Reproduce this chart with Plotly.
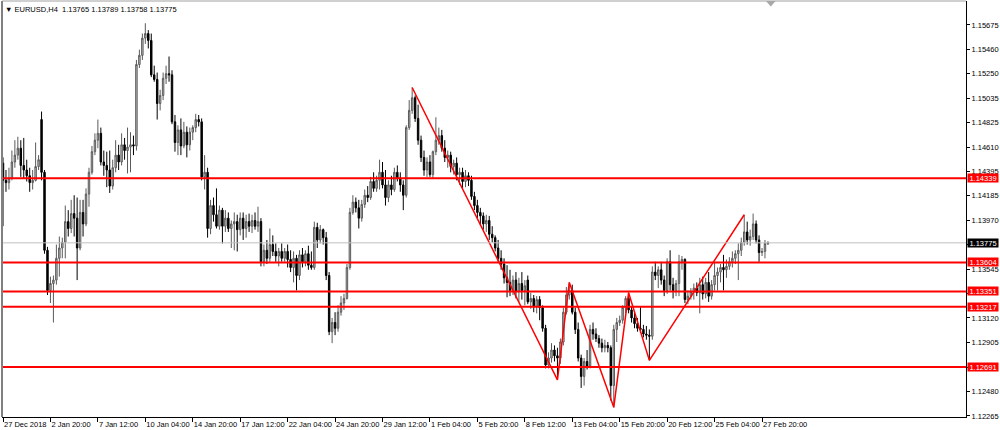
import plotly.graph_objects as go

# ---------------- data (EURUSD, H4) ----------------
x_tick_labels = ["27 Dec 2018", "2 Jan 20:00", "7 Jan 12:00", "10 Jan 04:00", "14 Jan 20:00",
                 "17 Jan 12:00", "22 Jan 04:00", "24 Jan 20:00", "29 Jan 12:00", "1 Feb 04:00",
                 "5 Feb 20:00", "8 Feb 12:00", "13 Feb 04:00", "15 Feb 20:00", "20 Feb 12:00",
                 "25 Feb 04:00", "27 Feb 20:00"]
x_tick_index = [0, 16, 32, 48, 64, 80, 96, 112, 128, 144, 160, 176, 192, 208, 224, 240, 256]

y_ticks = [1.12265, 1.12480, 1.12690, 1.12905, 1.13120, 1.13335, 1.13545, 1.13760, 1.13970,
           1.14185, 1.14395, 1.14610, 1.14825, 1.15035, 1.15250, 1.15460, 1.15675]

open_ = [
    1.1447, 1.1432, 1.1430, 1.1434, 1.1448, 1.1454, 1.1460, 1.1445, 1.1441, 1.1436,
    1.1430, 1.1432, 1.1444, 1.1485, 1.1439, 1.1371, 1.1336, 1.1342, 1.1345, 1.1364,
    1.1373, 1.1378, 1.1396, 1.1390, 1.1403, 1.1399, 1.1373, 1.1404, 1.1394, 1.1420,
    1.1439, 1.1457, 1.1467, 1.1473, 1.1448, 1.1445, 1.1441, 1.1427, 1.1443, 1.1454,
    1.1448, 1.1463, 1.1458, 1.1461, 1.1463, 1.1462, 1.1533, 1.1541, 1.1556, 1.1560,
    1.1554, 1.1524, 1.1520, 1.1499, 1.1506, 1.1521, 1.1525, 1.1524, 1.1483, 1.1465,
    1.1476, 1.1462, 1.1474, 1.1463, 1.1474, 1.1478, 1.1485, 1.1483, 1.1435, 1.1439,
    1.1390, 1.1410, 1.1402, 1.1392, 1.1406, 1.1392, 1.1399, 1.1390, 1.1394, 1.1396,
    1.1389, 1.1399, 1.1390, 1.1396, 1.1392, 1.1397, 1.1392, 1.1396, 1.1361, 1.1371,
    1.1364, 1.1376, 1.1370, 1.1366, 1.1370, 1.1364, 1.1370, 1.1363, 1.1356, 1.1364,
    1.1349, 1.1367, 1.1361, 1.1368, 1.1358, 1.1356, 1.1391, 1.1380, 1.1389, 1.1382,
    1.1349, 1.1300, 1.1308, 1.1303, 1.1317, 1.1325, 1.1329, 1.1356, 1.1404, 1.1413,
    1.1408, 1.1399, 1.1411, 1.1419, 1.1417, 1.1431, 1.1425, 1.1432, 1.1439, 1.1428,
    1.1417, 1.1428, 1.1424, 1.1439, 1.1434, 1.1428, 1.1419, 1.1478, 1.1493, 1.1504,
    1.1486, 1.1467, 1.1452, 1.1441, 1.1448, 1.1437, 1.1457, 1.1467, 1.1471, 1.1460,
    1.1452, 1.1454, 1.1444, 1.1447, 1.1437, 1.1439, 1.1431, 1.1436, 1.1432, 1.1418,
    1.1410, 1.1404, 1.1401, 1.1394, 1.1397, 1.1385, 1.1382, 1.1373, 1.1364, 1.1359,
    1.1347, 1.1343, 1.1336, 1.1345, 1.1335, 1.1342, 1.1336, 1.1345, 1.1326, 1.1329,
    1.1322, 1.1328, 1.1321, 1.1303, 1.1271, 1.1277, 1.1284, 1.1279, 1.1277, 1.1291,
    1.1317, 1.1332, 1.1336, 1.1317, 1.1302, 1.1277, 1.1261, 1.1274, 1.1270, 1.1302,
    1.1298, 1.1294, 1.1290, 1.1286, 1.1288, 1.1286, 1.1253, 1.1302, 1.1308, 1.1310,
    1.1321, 1.1329, 1.1319, 1.1312, 1.1307, 1.1303, 1.1302, 1.1298, 1.1297, 1.1296,
    1.1352, 1.1349, 1.1354, 1.1345, 1.1336, 1.1361, 1.1341, 1.1336, 1.1342, 1.1361,
    1.1363, 1.1328, 1.1331, 1.1335, 1.1338, 1.1334, 1.1341, 1.1333, 1.1343, 1.1331,
    1.1341, 1.1349, 1.1352, 1.1356, 1.1354, 1.1357, 1.1361, 1.1364, 1.1368, 1.1371,
    1.1378, 1.1387, 1.1380, 1.1383, 1.1394, 1.1380, 1.1369, 1.1370, 1.13765]

high = [
    1.1452, 1.1441, 1.1443, 1.1458, 1.1467, 1.1470, 1.1467, 1.1469, 1.1450, 1.1443,
    1.1441, 1.1465, 1.1454, 1.1492, 1.1441, 1.1374, 1.1348, 1.1349, 1.1376, 1.1383,
    1.1382, 1.1410, 1.1406, 1.1415, 1.1419, 1.1417, 1.1415, 1.1415, 1.1425, 1.1443,
    1.1462, 1.1473, 1.1485, 1.1478, 1.1458, 1.1457, 1.1458, 1.1450, 1.1467, 1.1463,
    1.1473, 1.1469, 1.1478, 1.1474, 1.1471, 1.1537, 1.1546, 1.1560, 1.1569, 1.1563,
    1.1560, 1.1532, 1.1526, 1.1511, 1.1526, 1.1532, 1.1540, 1.1528, 1.1489, 1.1480,
    1.1486, 1.1483, 1.1479, 1.1478, 1.1480, 1.1490, 1.1489, 1.1486, 1.1454, 1.1443,
    1.1415, 1.1417, 1.1425, 1.1410, 1.1408, 1.1406, 1.1404, 1.1397, 1.1404, 1.1402,
    1.1404, 1.1404, 1.1402, 1.1403, 1.1402, 1.1404, 1.1409, 1.1399, 1.1376, 1.1380,
    1.1390, 1.1384, 1.1377, 1.1373, 1.1377, 1.1373, 1.1376, 1.1371, 1.1370, 1.1367,
    1.1371, 1.1373, 1.1371, 1.1375, 1.1370, 1.1396, 1.1395, 1.1393, 1.1390, 1.1387,
    1.1352, 1.1312, 1.1317, 1.1323, 1.1331, 1.1333, 1.1359, 1.1408, 1.1419, 1.1417,
    1.1415, 1.1415, 1.1424, 1.1427, 1.1435, 1.1439, 1.1436, 1.1450, 1.1448, 1.1441,
    1.1432, 1.1436, 1.1443, 1.1445, 1.1439, 1.1432, 1.1480, 1.1502, 1.1513, 1.1506,
    1.1498, 1.1471, 1.1458, 1.1452, 1.1454, 1.1458, 1.1487, 1.1478, 1.1476, 1.1467,
    1.1458, 1.1457, 1.1450, 1.1452, 1.1443, 1.1443, 1.1441, 1.1439, 1.1436, 1.1422,
    1.1415, 1.1408, 1.1404, 1.1402, 1.1401, 1.1392, 1.1384, 1.1380, 1.1371, 1.1364,
    1.1358, 1.1354, 1.1349, 1.1352, 1.1347, 1.1352, 1.1345, 1.1349, 1.1334, 1.1332,
    1.1331, 1.1331, 1.1323, 1.1306, 1.1282, 1.1290, 1.1288, 1.1286, 1.1294, 1.1321,
    1.1339, 1.1343, 1.1341, 1.1321, 1.1308, 1.1280, 1.1277, 1.1284, 1.1306, 1.1308,
    1.1303, 1.1297, 1.1294, 1.1293, 1.1291, 1.1288, 1.1306, 1.1312, 1.1314, 1.1323,
    1.1331, 1.1334, 1.1322, 1.1317, 1.1312, 1.1322, 1.1306, 1.1305, 1.1302, 1.1357,
    1.1361, 1.1357, 1.1361, 1.1349, 1.1364, 1.1371, 1.1347, 1.1345, 1.1367, 1.1366,
    1.1364, 1.1336, 1.1338, 1.1342, 1.1343, 1.1347, 1.1348, 1.1347, 1.1352, 1.1345,
    1.1361, 1.1356, 1.1359, 1.1367, 1.1363, 1.1365, 1.1370, 1.1371, 1.1377, 1.1382,
    1.1402, 1.1396, 1.1389, 1.1403, 1.1397, 1.1384, 1.1373, 1.1380, 1.13789]

low = [
    1.1392, 1.1422, 1.1424, 1.1432, 1.1443, 1.1450, 1.1435, 1.1434, 1.1431, 1.1422,
    1.1424, 1.1431, 1.1441, 1.1432, 1.1368, 1.1332, 1.1325, 1.1308, 1.1341, 1.1348,
    1.1364, 1.1364, 1.1383, 1.1386, 1.1383, 1.1345, 1.1371, 1.1383, 1.1392, 1.1409,
    1.1437, 1.1454, 1.1460, 1.1445, 1.1436, 1.1426, 1.1421, 1.1424, 1.1439, 1.1441,
    1.1445, 1.1450, 1.1438, 1.1439, 1.1454, 1.1458, 1.1530, 1.1537, 1.1551, 1.1547,
    1.1522, 1.1518, 1.1485, 1.1493, 1.1502, 1.1516, 1.1518, 1.1481, 1.1457, 1.1454,
    1.1454, 1.1460, 1.1452, 1.1458, 1.1467, 1.1474, 1.1479, 1.1432, 1.1424, 1.1382,
    1.1385, 1.1396, 1.1390, 1.1389, 1.1377, 1.1387, 1.1387, 1.1373, 1.1371, 1.1370,
    1.1384, 1.1380, 1.1382, 1.1387, 1.1386, 1.1389, 1.1387, 1.1357, 1.1357, 1.1359,
    1.1361, 1.1366, 1.1361, 1.1357, 1.1361, 1.1361, 1.1356, 1.1352, 1.1343, 1.1336,
    1.1345, 1.1356, 1.1357, 1.1354, 1.1354, 1.1354, 1.1373, 1.1377, 1.1376, 1.1345,
    1.1297, 1.1290, 1.1297, 1.1300, 1.1314, 1.1319, 1.1328, 1.1354, 1.1402, 1.1404,
    1.1390, 1.1396, 1.1408, 1.1413, 1.1415, 1.1422, 1.1422, 1.1424, 1.1425, 1.1410,
    1.1413, 1.1419, 1.1422, 1.1431, 1.1422, 1.1406, 1.1417, 1.1476, 1.1490, 1.1483,
    1.1463, 1.1448, 1.1436, 1.1435, 1.1435, 1.1434, 1.1454, 1.1463, 1.1457, 1.1448,
    1.1443, 1.1439, 1.1437, 1.1432, 1.1428, 1.1425, 1.1426, 1.1427, 1.1415, 1.1406,
    1.1399, 1.1393, 1.1389, 1.1387, 1.1380, 1.1378, 1.1370, 1.1361, 1.1354, 1.1342,
    1.1330, 1.1331, 1.1332, 1.1329, 1.1326, 1.1328, 1.1323, 1.1324, 1.1320, 1.1317,
    1.1316, 1.1310, 1.1300, 1.1268, 1.1268, 1.1273, 1.1274, 1.1258, 1.1272, 1.1288,
    1.1315, 1.1328, 1.1315, 1.1298, 1.1274, 1.1251, 1.1253, 1.1267, 1.1268, 1.1293,
    1.1291, 1.1286, 1.1282, 1.1282, 1.1282, 1.1240, 1.1234, 1.1291, 1.1305, 1.1307,
    1.1316, 1.1316, 1.1308, 1.1303, 1.1300, 1.1299, 1.1295, 1.1293, 1.1275, 1.1293,
    1.1345, 1.1338, 1.1341, 1.1331, 1.1333, 1.1336, 1.1329, 1.1331, 1.1331, 1.1354,
    1.1325, 1.1324, 1.1328, 1.1328, 1.1331, 1.1316, 1.1328, 1.1329, 1.1326, 1.1328,
    1.1336, 1.1336, 1.1343, 1.1336, 1.1347, 1.1354, 1.1356, 1.1359, 1.1345, 1.1366,
    1.1375, 1.1376, 1.1375, 1.1380, 1.1377, 1.1361, 1.1366, 1.1364, 1.13758]

close = [
    1.1432, 1.1430, 1.1434, 1.1448, 1.1454, 1.1460, 1.1445, 1.1441, 1.1436, 1.1430,
    1.1432, 1.1444, 1.1450, 1.1439, 1.1371, 1.1336, 1.1342, 1.1345, 1.1364, 1.1373,
    1.1378, 1.1396, 1.1390, 1.1403, 1.1399, 1.1373, 1.1404, 1.1394, 1.1420, 1.1439,
    1.1457, 1.1467, 1.1473, 1.1448, 1.1445, 1.1441, 1.1427, 1.1443, 1.1454, 1.1448,
    1.1463, 1.1458, 1.1461, 1.1463, 1.1462, 1.1533, 1.1541, 1.1556, 1.1560, 1.1554,
    1.1524, 1.1520, 1.1499, 1.1506, 1.1521, 1.1525, 1.1524, 1.1483, 1.1465, 1.1476,
    1.1462, 1.1474, 1.1463, 1.1474, 1.1478, 1.1485, 1.1483, 1.1435, 1.1439, 1.1390,
    1.1410, 1.1402, 1.1392, 1.1406, 1.1392, 1.1399, 1.1390, 1.1394, 1.1396, 1.1389,
    1.1399, 1.1390, 1.1396, 1.1392, 1.1397, 1.1392, 1.1396, 1.1361, 1.1371, 1.1364,
    1.1376, 1.1370, 1.1366, 1.1370, 1.1364, 1.1370, 1.1363, 1.1356, 1.1364, 1.1349,
    1.1367, 1.1361, 1.1368, 1.1358, 1.1356, 1.1391, 1.1380, 1.1389, 1.1382, 1.1349,
    1.1300, 1.1308, 1.1303, 1.1317, 1.1325, 1.1329, 1.1356, 1.1404, 1.1413, 1.1408,
    1.1399, 1.1411, 1.1419, 1.1417, 1.1431, 1.1425, 1.1432, 1.1439, 1.1428, 1.1417,
    1.1428, 1.1424, 1.1439, 1.1434, 1.1428, 1.1419, 1.1478, 1.1493, 1.1504, 1.1486,
    1.1467, 1.1452, 1.1441, 1.1448, 1.1437, 1.1457, 1.1467, 1.1471, 1.1460, 1.1452,
    1.1454, 1.1444, 1.1447, 1.1437, 1.1439, 1.1431, 1.1436, 1.1432, 1.1418, 1.1410,
    1.1404, 1.1401, 1.1394, 1.1397, 1.1385, 1.1382, 1.1373, 1.1364, 1.1359, 1.1347,
    1.1343, 1.1336, 1.1345, 1.1335, 1.1342, 1.1336, 1.1340, 1.1326, 1.1329, 1.1322,
    1.1328, 1.1321, 1.1303, 1.1271, 1.1277, 1.1284, 1.1279, 1.1277, 1.1291, 1.1317,
    1.1332, 1.1336, 1.1317, 1.1302, 1.1277, 1.1261, 1.1274, 1.1270, 1.1302, 1.1298,
    1.1294, 1.1290, 1.1286, 1.1288, 1.1286, 1.1253, 1.1302, 1.1308, 1.1310, 1.1321,
    1.1329, 1.1319, 1.1312, 1.1307, 1.1303, 1.1302, 1.1298, 1.1297, 1.1296, 1.1352,
    1.1349, 1.1354, 1.1345, 1.1336, 1.1361, 1.1341, 1.1336, 1.1342, 1.1361, 1.1363,
    1.1328, 1.1331, 1.1335, 1.1338, 1.1334, 1.1341, 1.1333, 1.1343, 1.1331, 1.1341,
    1.1349, 1.1352, 1.1356, 1.1354, 1.1357, 1.1361, 1.1364, 1.1368, 1.1371, 1.1378,
    1.1387, 1.1380, 1.1383, 1.1394, 1.1380, 1.1369, 1.1370, 1.1377, 1.13775]

# ZigZag pivots (bar index, which extreme)
zz_index = [138, 187, 191, 206, 211, 218, 250]
zz_kind = ["high", "low", "high", "low", "high", "low", "high"]

# Horizontal support / resistance levels
red_levels = [1.14339, 1.13604, 1.13351, 1.13217, 1.12691]

symbol = "EURUSD,H4"

# ---------------- figure ----------------
FONT = "Liberation Sans"
FS = 7.5
bar_index = list(range(len(close)))
zz_price = [high[i] if k == "high" else low[i] for i, k in zip(zz_index, zz_kind)]
bid = close[-1]

# price labels that sit under a level box are hidden (as the terminal does)
boxed = red_levels + [bid]
y_ticktext = ["" if any(abs(v - b) < 0.0003 for b in boxed) and v not in (1.14395, 1.13545)
              else f"{v:.5f}" for v in y_ticks]

fig = go.Figure()
fig.add_trace(go.Candlestick(
    x=bar_index, open=open_, high=high, low=low, close=close,
    increasing=dict(line=dict(color="#5a5a5a", width=1), fillcolor="#c4c4c4"),
    decreasing=dict(line=dict(color="#000000", width=1), fillcolor="#000000"),
    whiskerwidth=0, hoverinfo="skip", showlegend=False))

fig.add_trace(go.Scatter(
    x=zz_index, y=zz_price, mode="lines",
    line=dict(color="#ff0000", width=1.5), hoverinfo="skip", showlegend=False))

shapes = []
# bid line
shapes.append(dict(type="line", xref="paper", x0=0, x1=1, yref="y", y0=bid, y1=bid,
                   line=dict(color="#c0c0c0", width=1), layer="above"))
for lv in red_levels:
    shapes.append(dict(type="line", xref="paper", x0=0, x1=1, yref="y", y0=lv, y1=lv,
                       line=dict(color="#ff0000", width=2), layer="above"))
# left / top frame
shapes.append(dict(type="line", xref="paper", yref="paper", x0=0, x1=0, y0=0, y1=1,
                   line=dict(color="#808080", width=2)))
shapes.append(dict(type="line", xref="paper", yref="paper", x0=0, x1=1, y0=1, y1=1,
                   line=dict(color="#a0a0a0", width=1)))
# chart-shift marker
shapes.append(dict(type="path", xref="paper", yref="paper",
                   path="M 0.7925 1 L 0.8025 1 L 0.7975 0.987 Z",
                   fillcolor="#a8a8a8", line=dict(color="#a8a8a8", width=0)))

annotations = []
for lv in red_levels:
    annotations.append(dict(xref="paper", x=1, xanchor="left", xshift=1, yref="y", y=lv,
                            yanchor="middle", text=f"{lv:.5f}", showarrow=False,
                            bgcolor="#ff0000", font=dict(family=FONT, size=FS, color="#ffffff"),
                            width=30, height=8, borderpad=0, align="center"))
annotations.append(dict(xref="paper", x=1, xanchor="left", xshift=1, yref="y", y=bid,
                        yanchor="middle", text=f"{bid:.5f}", showarrow=False,
                        bgcolor="#000000", font=dict(family=FONT, size=FS, color="#ffffff"),
                        width=30, height=8, borderpad=0, align="center"))
title_text = ("\u25BC " + symbol + "\u00a0\u00a0" +
              " ".join(f"{v:.5f}" for v in (open_[-1], high[-1], low[-1], close[-1])))
annotations.append(dict(xref="paper", yref="paper", x=0, y=1, xanchor="left", yanchor="top",
                        xshift=1, yshift=-2, text=title_text, showarrow=False,
                        font=dict(family=FONT, size=FS, color="#000000")))

fig.update_layout(
    width=1000, height=430,
    margin=dict(l=2, r=34, t=1, b=13),
    paper_bgcolor="#ffffff", plot_bgcolor="#ffffff",
    showlegend=False,
    font=dict(family=FONT, size=FS, color="#000000"),
    xaxis=dict(range=[-0.34, 324.8], rangeslider=dict(visible=False), showgrid=False,
               zeroline=False, tickmode="array", tickvals=x_tick_index, ticktext=x_tick_labels,
               ticks="outside", ticklen=4, tickcolor="#000000", tickwidth=1, tickangle=0,
               showline=True, linecolor="#000000", linewidth=1,
               ticklabelposition="outside right", tickfont=dict(family=FONT, size=FS)),
    yaxis=dict(side="right", range=[1.12256, 1.15884], tickmode="array", tickvals=y_ticks,
               ticktext=y_ticktext, ticks="outside", ticklen=3, tickcolor="#000000",
               showline=True, linecolor="#000000", linewidth=1, showgrid=False,
               zeroline=False, tickfont=dict(family=FONT, size=FS)),
    shapes=shapes, annotations=annotations,
)

fig.write_html("out.html", config={"displayModeBar": False},
               post_script="document.body.style.margin='0';document.body.style.overflow='hidden';")
